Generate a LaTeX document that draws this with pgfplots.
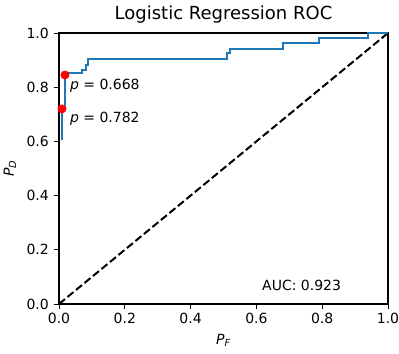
\documentclass[border=0pt]{standalone}
\usepackage{fontspec}
\setmainfont{DejaVu Sans}
\usepackage{pgfplots}
\pgfplotsset{compat=1.18}
\definecolor{mplblue}{HTML}{1F77B4}
\begin{document}
\begin{tikzpicture}
\useasboundingbox (-59bp,-50bp) rectangle (340bp,304bp);
\begin{axis}[
  at={(0,0)}, anchor=south west,
  scale only axis, width=329bp, height=271bp,
  xmin=0, xmax=1, ymin=0, ymax=1,
  xtick={0,0.2,0.4,0.6,0.8,1.0},
  ytick={0,0.2,0.4,0.6,0.8,1.0},
  xtick pos=bottom, ytick pos=left,
  tick align=outside,
  major tick length=5bp,
  every tick/.style={black, line width=0.9bp},
  axis line style={line width=1.1bp},
  /pgf/number format/assume math mode=true,
  /pgf/number format/.cd, fixed, fixed zerofill, precision=1, /pgfplots/.cd,
  ticklabel style={font=\fontsize{14bp}{16bp}\selectfont},
  xticklabel style={inner sep=0pt, yshift=-4bp},
  yticklabel style={inner sep=0pt, xshift=-5bp},
  xlabel={\itshape P\textsubscript{F}},
  ylabel={\itshape P\textsubscript{D}},
  label style={font=\fontsize{14bp}{16bp}\selectfont},
  xlabel style={at={(axis description cs:0.5,-0.133)}, anchor=center},
  ylabel style={at={(axis description cs:-0.149,0.5)}, anchor=center},
  title={Logistic Regression ROC},
  title style={font=\fontsize{18bp}{20bp}\selectfont, at={(axis description cs:0.5,1)}, anchor=base, yshift=8bp, inner sep=0pt},
  clip=false,
]
\addplot[black, line width=2bp, dash pattern=on 7.7bp off 3.3bp] coordinates {(0,0) (1,1)};
\addplot[mplblue, line width=2bp, line join=miter] coordinates {
(0.009,0.605) (0.009,0.72) (0.018,0.72) (0.018,0.84) (0.027,0.84) (0.027,0.853)
(0.07,0.853) (0.07,0.865) (0.082,0.865) (0.082,0.882) (0.088,0.882) (0.088,0.904)
(0.51,0.904) (0.51,0.925) (0.52,0.925) (0.52,0.94) (0.68,0.94) (0.68,0.962)
(0.79,0.962) (0.79,0.98) (0.94,0.98) (0.94,1.0) (1.0,1.0)};
\addplot[only marks, mark=*, mark size=4.2bp, red, mark options={draw=red, fill=red}] coordinates {(0.018,0.845) (0.009,0.72)};
\node[anchor=base west, inner sep=0pt, font=\fontsize{14bp}{16bp}\selectfont] at (axis cs:0.033,0.790) {\textit{p} = 0.668};
\node[anchor=base west, inner sep=0pt, font=\fontsize{14bp}{16bp}\selectfont] at (axis cs:0.033,0.669) {\textit{p} = 0.782};
\node[anchor=base west, inner sep=0pt, font=\fontsize{14bp}{16bp}\selectfont] at (axis cs:0.617,0.049) {AUC: 0.923};
\end{axis}
\end{tikzpicture}
\end{document}
